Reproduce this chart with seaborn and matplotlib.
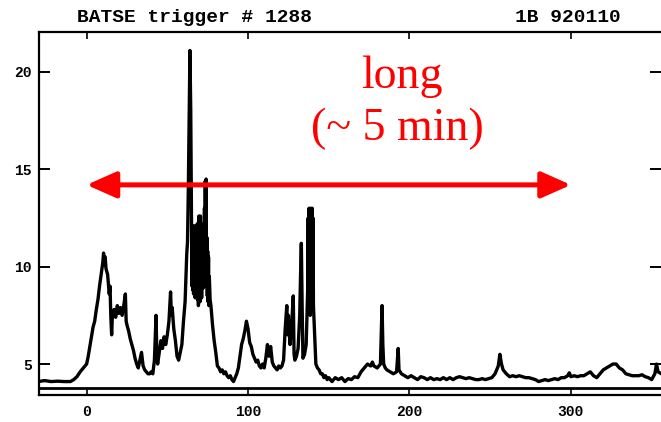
import matplotlib
matplotlib.use("Agg")
import matplotlib.pyplot as plt
import seaborn as sns
import pandas as pd

# ---- data ----
time_s = [-30, -26, -22, -18, -14, -10, -8, -6, -4, -2, 0, 1, 2, 3, 4, 5, 6, 7, 8, 9, 10, 10.5, 11, 11.5, 12, 13, 14, 14.5, 15, 15.5,
          16, 17, 18, 19, 20, 21, 22, 23, 24, 24.5, 25, 26, 27, 28, 29, 30, 31, 32, 33, 34, 35, 36, 37, 38, 39, 40, 41, 42, 43, 43.5,
          44, 45, 46, 47, 48, 49, 50, 51, 52, 52.5, 53, 54, 55, 56, 57, 58, 59, 60, 61, 62, 62.5, 63, 63.5, 64, 64.5,
          65, 65.25, 65.5, 65.75, 66, 66.25, 66.5, 66.75, 67, 67.25, 67.5, 67.75, 68, 68.25, 68.5, 68.75, 69, 69.25, 69.5, 69.75,
          70, 70.25, 70.5, 70.75, 71, 71.25, 71.5, 71.75, 72, 72.25, 72.5, 72.75, 73, 73.25, 73.5, 73.75, 74, 74.25, 74.5, 74.75,
          75, 75.25, 75.5, 75.75, 76, 76.5, 77, 78, 79, 80, 81, 82, 83,
          84, 85, 86, 87, 88, 89, 90, 91, 92, 93, 94, 95, 96, 97, 98, 99, 100, 101, 102, 103, 104, 105, 106, 107, 108, 109, 110, 111,
          112, 113, 114, 115, 116, 117, 118, 119, 120, 121, 122, 123, 124, 124.5, 125, 126, 127, 128, 128.5, 129, 130, 131, 132, 132.5,
          133, 133.5, 134, 135, 136, 137, 137.25, 137.5, 137.75, 138, 138.25, 138.5, 138.75, 139, 139.25, 139.5, 139.75, 140, 140.25,
          140.5, 141, 142, 143, 144, 145, 146, 147, 148, 149, 150,
          152, 154, 156, 158, 160, 162, 164, 166, 168, 170, 172, 174, 176, 177, 178, 180, 182, 183, 183.5, 184, 185, 186, 188, 190, 192,
          193, 193.5, 195, 197, 199, 201, 203, 205, 207, 209, 211, 213, 215, 217, 219, 221, 223, 225, 227, 229, 231, 233, 235, 237, 239,
          241, 243, 245, 247, 249, 251, 253, 255, 256, 257, 258, 260, 262, 264, 266, 268, 270, 272, 274, 276, 278, 280, 282, 284, 286,
          288, 290, 292, 294, 296, 298, 299, 300, 302, 304, 306, 308, 310, 312, 314, 316, 318, 320, 322, 324, 326, 328, 330, 332, 334,
          336, 338, 340, 342, 344, 346, 348, 350, 352, 353, 354, 356]
counts = [4.1, 4.15, 4.1, 4.12, 4.1, 4.1, 4.2, 4.35, 4.6, 4.8, 5.0, 5.4, 5.9, 6.4, 6.9, 7.2, 7.8, 8.3, 9.0, 9.6, 10.2, 10.7, 10.1, 10.5, 9.9, 9.6, 8.6, 9.0, 7.4, 6.5,
          7.6, 7.8, 7.4, 8.0, 7.6, 7.9, 7.5, 8.0, 8.6, 7.2, 7.0, 6.7, 6.3, 6.0, 5.7, 5.3, 5.0, 4.8, 5.2, 5.6, 4.9, 4.7, 4.6, 4.5, 4.5, 4.6, 4.5, 5.2, 7.5, 5.5,
          5.0, 5.6, 6.2, 5.8, 6.4, 6.0, 6.5, 7.2, 8.7, 7.5, 7.9, 6.8, 6.2, 5.4, 5.2, 5.6, 6.0, 7.2, 8.2, 10.6, 11.3, 14.0, 17.5, 21.1, 18.0,
          12.0, 9.0, 11.8, 8.8, 11.0, 8.6, 12.1, 9.0, 11.6, 8.4, 12.0, 8.8, 11.5, 9.2, 12.2, 8.3, 11.8, 8.0, 12.6, 8.6,
          12.4, 8.2, 12.6, 9.0, 11.5, 8.4, 12.0, 9.2, 11.8, 8.9, 12.2, 9.4, 13.0, 9.0, 14.4, 9.8, 14.5, 9.5, 11.5, 8.5,
          10.8, 8.2, 10.5, 8.0, 9.5, 8.3, 8.0, 7.0, 6.2, 5.6, 4.9, 4.8, 4.6,
          4.7, 4.5, 4.6, 4.4, 4.3, 4.4, 4.2, 4.1, 4.3, 4.5, 4.8, 5.4, 6.0, 6.3, 6.7, 7.2, 6.8, 6.1, 5.9, 5.5, 5.3, 5.1, 5.2, 4.9, 4.8, 5.0, 4.8, 5.3,
          6.0, 5.4, 5.9, 5.1, 4.9, 4.8, 4.7, 4.9, 4.8, 4.9, 5.2, 6.8, 8.0, 6.5, 7.5, 6.0, 7.0, 8.5, 5.5, 5.2, 5.4, 5.8, 7.5, 9.5,
          11.2, 8.0, 5.3, 5.5, 6.0, 9.0, 12.5, 8.0, 13.0, 8.5, 12.8, 7.5, 13.0, 8.0, 12.6, 8.5, 13.0, 7.8, 12.5,
          8.0, 7.0, 5.0, 4.8, 4.7, 4.5, 4.5, 4.3, 4.4, 4.2, 4.3,
          4.1, 4.3, 4.2, 4.3, 4.1, 4.25, 4.2, 4.35, 4.3, 4.6, 4.8, 5.0, 4.9, 5.1, 4.9, 4.8, 5.0, 8.0, 6.0, 5.0, 4.8, 4.7, 4.6, 4.5, 4.6,
          5.8, 4.7, 4.5, 4.4, 4.3, 4.4, 4.3, 4.2, 4.35, 4.3, 4.2, 4.3, 4.2, 4.25, 4.2, 4.3, 4.2, 4.3, 4.2, 4.3, 4.35, 4.3, 4.25, 4.3, 4.25,
          4.2, 4.2, 4.25, 4.2, 4.25, 4.3, 4.5, 4.9, 5.5, 5.0, 4.7, 4.5, 4.35, 4.4, 4.35, 4.4, 4.35, 4.3, 4.3, 4.25, 4.2, 4.1, 4.15, 4.2, 4.15,
          4.2, 4.25, 4.2, 4.3, 4.3, 4.4, 4.55, 4.35, 4.4, 4.35, 4.4, 4.4, 4.5, 4.6, 4.4, 4.3, 4.5, 4.7, 4.8, 4.9, 5.0, 5.0, 4.8, 4.7, 4.5,
          4.45, 4.4, 4.4, 4.4, 4.45, 4.35, 4.3, 4.2, 4.5, 5.0, 4.6, 4.5]

x_ticks = [0, 100, 200, 300]
y_ticks = [5, 10, 15, 20]
title_left = "BATSE trigger # 1288"
title_right = "1B 920110"
label_line1 = "long"
label_line2 = "(~ 5 min)"

df = pd.DataFrame({"t": time_s, "c": counts})

sns.set_style("white")
fig = plt.figure(figsize=(6.61, 4.22), dpi=100)
ax = fig.add_axes([39/661, (422-395)/422, 1 - 39/661, (395-32)/422])

sns.lineplot(data=df, x="t", y="c", ax=ax, color="black", linewidth=2.4,
             estimator=None, sort=False)

ax.set_xlim(-29.5, 355.8)
ax.set_ylim(3.41, 22.05)
ax.set_xlabel("")
ax.set_ylabel("")
ax.set_xticks(x_ticks)
ax.set_yticks(y_ticks)

for s in ["left", "top", "bottom"]:
    ax.spines[s].set_color("black")
    ax.spines[s].set_linewidth(1.6)
ax.spines["right"].set_visible(False)

# inner solid baseline line above the bottom frame
ax.axhline(3.77, color="black", linewidth=2.0, zorder=3)

ax.tick_params(axis="x", which="major", direction="in", length=5, width=1.2,
               top=True, bottom=True, pad=7, labelsize=10.5, colors="black")
ax.tick_params(axis="y", which="major", direction="in", length=8, width=1.4,
               left=True, right=True, pad=5, labelsize=10.5, colors="black")
for lab in ax.get_xticklabels() + ax.get_yticklabels():
    lab.set_fontfamily("Liberation Mono")
    lab.set_fontweight("bold")

fig.text(77/661, 1 - 18/422, title_left, family="Liberation Mono", fontsize=14,
         fontweight="bold", ha="left", va="center", color="black")
fig.text(515/661, 1 - 18/422, title_right, family="Liberation Mono", fontsize=14,
         fontweight="bold", ha="left", va="center", color="black")

fig.text(402/661, 1 - 88/422, label_line1, family="Liberation Serif", fontsize=33,
         ha="center", va="baseline", color="#ff0000")
fig.text(397/661, 1 - 140/422, label_line2, family="Liberation Serif", fontsize=33,
         ha="center", va="baseline", color="#ff0000")

ax.annotate("", xy=(300, 14.2), xytext=(0, 14.2),
            arrowprops=dict(arrowstyle="<|-|>,head_length=0.45,head_width=0.2",
                            color="#ff0000", lw=3.6, mutation_scale=40,
                            shrinkA=0, shrinkB=0),
            zorder=10)

fig.savefig("out.png", dpi=100)
